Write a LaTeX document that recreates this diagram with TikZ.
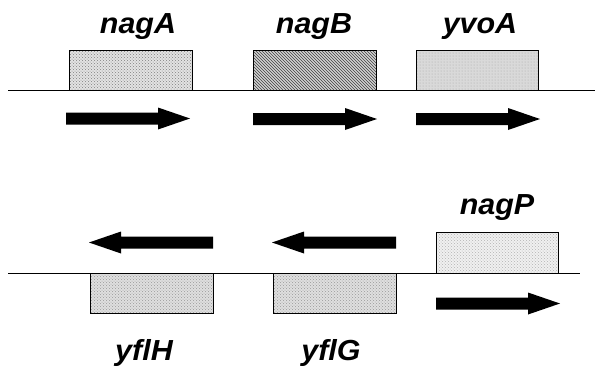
\documentclass[tikz,border=0pt]{standalone}
\usepackage{fontspec}
\setmainfont{Liberation Sans}
\usetikzlibrary{patterns}
\begin{document}
\begin{tikzpicture}[x=1pt,y=-1pt,
  gene/.style={draw=black,line width=0.8pt},
  lbl/.style={font=\fontsize{29}{32}\selectfont\bfseries\itshape,anchor=base,inner sep=0pt,xscale=1.05},
  dna/.style={line width=0.8pt},
  fwd/.pic={\fill (0,-6) -- (92,-6) -- (92,-11) -- (124,0) -- (92,11) -- (92,6) -- (0,6) -- cycle;},
  rev/.pic={\fill (0,-6) -- (-92,-6) -- (-92,-11) -- (-124,0) -- (-92,11) -- (-92,6) -- (0,6) -- cycle;}
]
\useasboundingbox (0,0) rectangle (595,368);
% DNA lines
\coordinate (l1a) at (8,90); \coordinate (l1b) at (595,90);
\coordinate (l2a) at (8,273); \coordinate (l2b) at (580,273);
\draw[dna] (l1a) -- (l1b);
\draw[dna] (l2a) -- (l2b);
% top genes
\fill[gray!22] (69,50) rectangle (192,90);
\fill[pattern=crosshatch dots,pattern color=gray] (69,50) rectangle (192,90);
\draw[gene] (69,50) rectangle (192,90);
\fill[gray!35] (253,50) rectangle (376,90);
\fill[pattern=north west lines,pattern color=black!75] (253,50) rectangle (376,90);
\draw[gene] (253,50) rectangle (376,90);
\fill[gray!30] (416,50) rectangle (538,90);
\fill[pattern=dots,pattern color=gray!70] (416,50) rectangle (538,90);
\draw[gene] (416,50) rectangle (538,90);
% bottom genes
\fill[gray!25] (90,273) rectangle (213,313);
\fill[pattern=crosshatch dots,pattern color=gray!80] (90,273) rectangle (213,313);
\draw[gene] (90,273) rectangle (213,313);
\fill[gray!25] (273,273) rectangle (396,313);
\fill[pattern=crosshatch dots,pattern color=gray!80] (273,273) rectangle (396,313);
\draw[gene] (273,273) rectangle (396,313);
\fill[gray!12] (436,232) rectangle (558,273);
\fill[pattern=crosshatch dots,pattern color=gray!60] (436,232) rectangle (558,273);
\draw[gene] (436,232) rectangle (558,273);
% labels
\node[lbl] (nagA) at (138,33) {nagA};
\node[lbl] (nagB) at (314,33) {nagB};
\node[lbl] (yvoA) at (480,33) {yvoA};
\node[lbl] (nagP) at (497,214) {nagP};
\node[lbl] (yflH) at (144,360) {yflH};
\node[lbl] (yflG) at (331,360) {yflG};
% arrows
\pic at (66,118.5) {fwd};
\pic at (253,119) {fwd};
\pic at (416,119) {fwd};
\pic at (436,303.5) {fwd};
\pic at (213,242.5) {rev};
\pic at (396,242.5) {rev};
\end{tikzpicture}
\end{document}
